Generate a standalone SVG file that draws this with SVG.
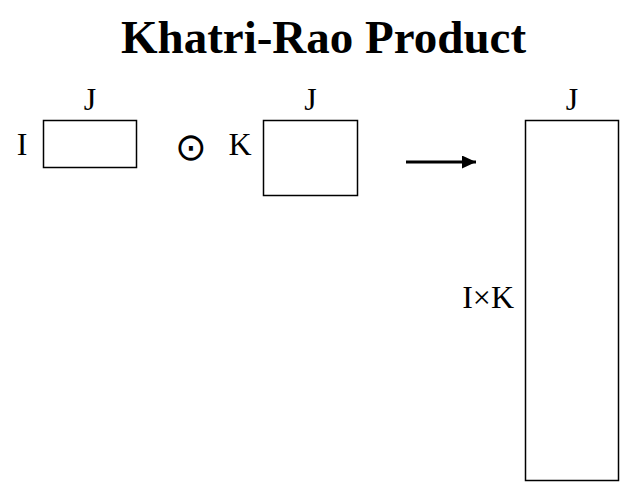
<svg xmlns="http://www.w3.org/2000/svg" width="632" height="488" viewBox="0 0 632 488">
<style>
.lbl{font-family:"Liberation Serif","Times New Roman",serif;font-size:32px;fill:#000}
.title{font-family:"Liberation Serif","Times New Roman",serif;font-size:47px;font-weight:bold;fill:#000}
.box{fill:#fff;stroke:#000;stroke-width:1.5}
</style>
<defs>
<marker id="ah" markerWidth="14" markerHeight="13" refX="14" refY="6.5" orient="auto" markerUnits="userSpaceOnUse">
<path d="M0,0 L14,6.5 L0,13 Z" fill="#000"/>
</marker>
</defs>
<rect width="632" height="488" fill="#fff"/>
<text class="title" x="323.5" y="53" text-anchor="middle">Khatri-Rao Product</text>
<g id="matrixA">
<rect class="box" x="43.5" y="120.5" width="93" height="47"/>
<text class="lbl" x="90" y="110" text-anchor="middle">J</text>
<text class="lbl" x="22" y="155" text-anchor="middle">I</text>
</g>
<g id="operator">
<text class="lbl" x="191" y="160" text-anchor="middle" style="font-family:'DejaVu Sans',sans-serif;font-size:38px">⊙</text>
</g>
<g id="matrixB">
<rect class="box" x="263.5" y="120.5" width="94" height="75"/>
<text class="lbl" x="310.5" y="110" text-anchor="middle">J</text>
<text class="lbl" x="240" y="155" text-anchor="middle">K</text>
</g>
<g id="result">
<rect class="box" x="525.5" y="120.5" width="93" height="360"/>
<text class="lbl" x="572" y="110" text-anchor="middle">J</text>
<text class="lbl" x="514" y="308" text-anchor="end">I×K</text>
</g>
<g id="connectors">
<line x1="406" y1="162" x2="476" y2="162" stroke="#000" stroke-width="3" marker-end="url(#ah)"/>
</g>
</svg>
